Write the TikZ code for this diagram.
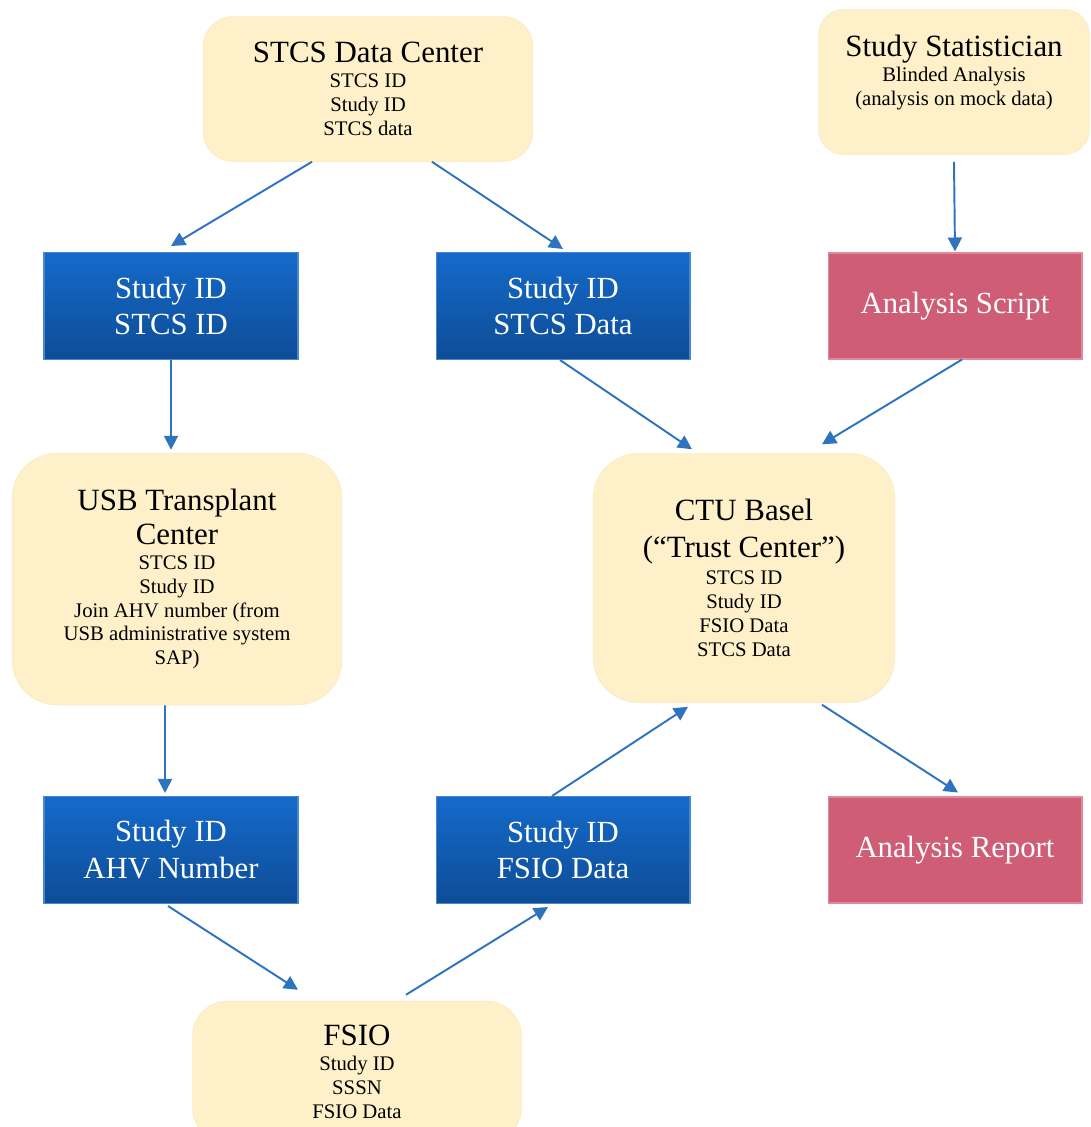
\documentclass[tikz,border=0pt]{standalone}
\usepackage{fontspec}
\setmainfont{Liberation Serif}
\usetikzlibrary{arrows.meta}

\definecolor{creamfill}{HTML}{FEF1C9}
\definecolor{bluetop}{HTML}{146ACA}
\definecolor{bluebottom}{HTML}{0E4C96}
\definecolor{blueedge}{HTML}{4A86CF}
\definecolor{redfill}{HTML}{CF5D76}
\definecolor{rededge}{HTML}{E0899C}
\definecolor{arrowblue}{HTML}{2E73BF}

\newcommand{\headline}[1]{{\fontsize{17.6}{19.8}\selectfont #1}}

\begin{document}
\begin{tikzpicture}[x=0.02cm, y=-0.02cm,
    infobox/.style={draw=creamfill!95!gray, line width=0.3pt, fill=creamfill, rounded corners=0.6cm,
        align=center, font=\fontsize{11.8}{13.6}\selectfont},
    databox/.style={draw=blueedge, line width=0.6pt, top color=bluetop, bottom color=bluebottom,
        minimum width=5.08cm, minimum height=2.14cm, align=center, text=white,
        font=\fontsize{17.5}{21}\selectfont},
    outbox/.style={draw=rededge, line width=0.6pt, fill=redfill, minimum width=5.08cm, minimum height=2.12cm,
        text=white, font=\fontsize{17.5}{21}\selectfont},
    flow/.style={draw=arrowblue, line width=1.1pt, -{Triangle[length=0.28cm, width=0.28cm]}}
]
    \useasboundingbox (0,0) rectangle (1091,1127);

    % sources
    \node[infobox, minimum width=6.6cm, minimum height=2.9cm] (dc) at (368,89)
        {\headline{STCS Data Center}\\[0.6pt] STCS ID\\ Study ID\\ STCS data};
    \node[infobox, rounded corners=0.5cm, minimum width=5.42cm, minimum height=2.9cm] (stat) at (954,82)
        {\headline{Study Statistician}\\[0.6pt] Blinded Analysis\\ (analysis on mock data)\\ \mbox{}};

    % first row of transfers
    \node[databox] (idstcs) at (171,306) {Study ID\\ STCS ID};
    \node[databox] (datastcs) at (563,306) {Study ID\\ STCS Data};
    \node[outbox] (script) at (955,306) {Analysis Script};

    % centres
    \node[infobox, rounded corners=0.9cm, minimum width=6.6cm, minimum height=5.04cm] (usb) at (177,579)
        {\headline{USB Transplant}\\[3pt] \headline{Center}\\[0.6pt] STCS ID\\ Study ID\\
         Join AHV number (from\\ USB administrative system\\ SAP)};
    \node[infobox, rounded corners=0.9cm, minimum width=6.04cm, minimum height=4.98cm] (ctu) at (744,578)
        {\headline{CTU Basel}\\[7pt] \headline{(``Trust Center'')}\\[2pt] STCS ID\\ Study ID\\
         FSIO Data\\ STCS Data};

    % second row of transfers
    \node[databox] (idahv) at (171,850) {Study ID\\ AHV Number};
    \node[databox] (datafsio) at (563,850) {Study ID\\ FSIO Data};
    \node[outbox] (report) at (955,850) {Analysis Report};

    % federal office, cut by the page
    \node[infobox, rounded corners=0.7cm, minimum width=6.58cm, minimum height=2.84cm] (fsio) at (357,1072)
        {\headline{FSIO}\\[0.6pt] Study ID\\ SSSN\\ FSIO Data};

    % flows
    \draw[flow] ([xshift=-1.12cm]dc.south) -- ([yshift=0.12cm]idstcs.north);
    \draw[flow] ([xshift=1.28cm]dc.south) -- ([yshift=0.06cm]datastcs.north);
    \draw[flow] ([yshift=-0.14cm]stat.south) -- ([yshift=0.02cm]script.north);
    \draw[flow] (idstcs.south) -- ([xshift=-0.12cm, yshift=0.06cm]usb.north);
    \draw[flow] ([xshift=-0.06cm]datastcs.south) -- ([xshift=-1.04cm, yshift=0.08cm]ctu.north);
    \draw[flow] ([xshift=0.14cm]script.south) -- ([xshift=1.56cm, yshift=0.18cm]ctu.north);
    \draw[flow] ([xshift=-0.24cm]usb.south) -- ([xshift=-0.12cm, yshift=0.06cm]idahv.north);
    \draw[flow] ([xshift=-0.22cm]datafsio.north) -- ([xshift=-1.12cm, yshift=-0.08cm]ctu.south);
    \draw[flow] ([xshift=1.56cm, yshift=-0.04cm]ctu.south) -- ([xshift=0.06cm, yshift=0.08cm]report.north);
    \draw[flow] ([xshift=-0.06cm, yshift=-0.04cm]idahv.south) -- ([xshift=-1.18cm, yshift=0.22cm]fsio.north);
    \draw[flow] ([xshift=0.98cm, yshift=0.12cm]fsio.north) -- ([xshift=-0.3cm, yshift=-0.06cm]datafsio.south);
\end{tikzpicture}
\end{document}
